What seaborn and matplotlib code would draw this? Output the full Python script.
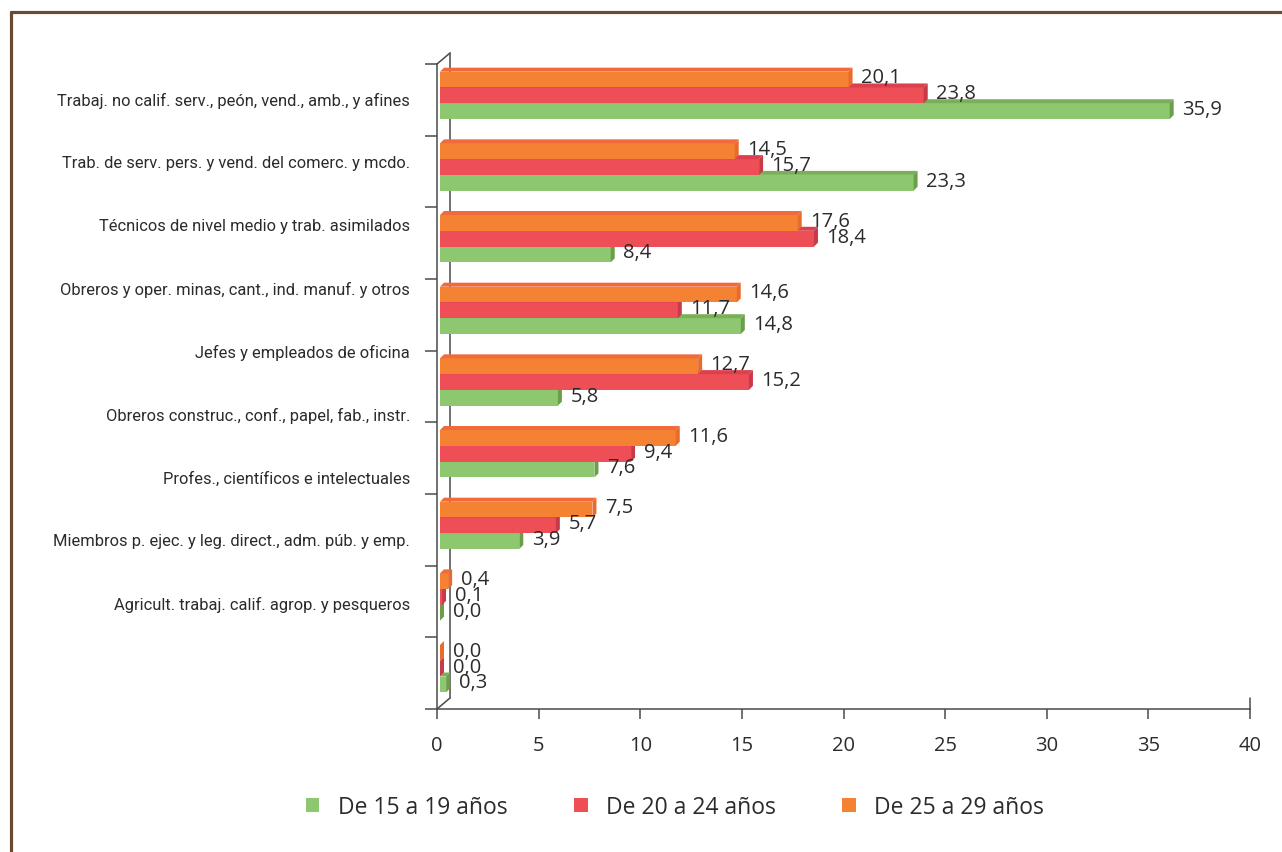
import numpy as np
import pandas as pd
import matplotlib
matplotlib.use("Agg")
import matplotlib.pyplot as plt
import seaborn as sns
from matplotlib.patches import Polygon, Patch
from matplotlib.lines import Line2D
import matplotlib.transforms as mtransforms

# Data
categories = [
    "Trabaj. no calif. serv., peón, vend., amb., y afines",
    "Trab. de serv. pers. y vend. del comerc. y mcdo.",
    "Técnicos de nivel medio y trab. asimilados",
    "Obreros y oper. minas, cant., ind. manuf. y otros",
    "Jefes y empleados de oficina",
    "Obreros construc., conf., papel, fab., instr.",
    "Profes., científicos e intelectuales",
    "Miembros p. ejec. y leg. direct., adm. púb. y emp.",
    "Agricult. trabaj. calif. agrop. y pesqueros",
]
series_names = ["De 15 a 19 años", "De 20 a 24 años", "De 25 a 29 años"]
v15_19 = [35.9, 23.3, 8.4, 14.8, 5.8, 7.6, 3.9, 0.0, 0.3]
v20_24 = [23.8, 15.7, 18.4, 11.7, 15.2, 9.4, 5.7, 0.1, 0.0]
v25_29 = [20.1, 14.5, 17.6, 14.6, 12.7, 11.6, 7.5, 0.4, 0.0]
x_ticks = [0, 5, 10, 15, 20, 25, 30, 35, 40]

# colours: front, top, side
colors = {
    "De 15 a 19 años": ("#8DC870", "#78AF57", "#6A9F48"),
    "De 20 a 24 años": ("#EE4E56", "#DC3F4D", "#C73A47"),
    "De 25 a 29 años": ("#F58233", "#F06A3C", "#E86A2C"),
}

sns.set_theme(style="white")
plt.rcParams['font.family'] = ['Open Sans', 'DejaVu Sans']
TXT = "#2B2B2B"
AX = "#4A4A4A"

df = pd.DataFrame({
    "cat": categories * 3,
    "grupo": [series_names[0]] * 9 + [series_names[1]] * 9 + [series_names[2]] * 9,
    "pct": v15_19 + v20_24 + v25_29,
})

W, H = 1282, 853
fig = plt.figure(figsize=(W / 100, H / 100), dpi=100)
ax = fig.add_axes([437 / W, 1 - 710 / H, (1250 - 437) / W, (710 - 65) / H])

hue_order = series_names[::-1]  # orange drawn at top of each group
sns.barplot(data=df, y="cat", x="pct", hue="grupo", hue_order=hue_order,
            order=categories, orient="h", width=0.66, errorbar=None,
            palette={k: v[0] for k, v in colors.items()}, saturation=1,
            legend=False, ax=ax)

ax.set_xlim(0, 40)
ax.set_ylim(len(categories) - 0.5, -0.5)

# pixel -> data conversion for the fake 3D depth
px_x = 40 / (1250 - 437)
px_y = len(categories) / (710 - 65)
dx, dy = 4 * px_x, 4 * px_y
x_shift, y_shift = 3 * px_x, 4.5 * px_y

zorders = {series_names[0]: 2.0, series_names[1]: 2.5, series_names[2]: 3.0}
vals = {series_names[0]: v15_19, series_names[1]: v20_24, series_names[2]: v25_29}

for name, cont in zip(hue_order, ax.containers):
    front, top, side = colors[name]
    z = zorders[name]
    for bar, v in zip(cont, vals[name]):
        bar.set_x(x_shift)
        bar.set_y(bar.get_y() - y_shift)
        bar.set_zorder(z)
        bar.set_edgecolor("none")
        x0 = bar.get_x()
        x1 = x0 + bar.get_width()
        yt = bar.get_y()
        yb = yt + bar.get_height()
        ax.add_patch(Polygon([(x0, yt), (x1, yt), (x1 + dx, yt - dy), (x0 + dx, yt - dy)],
                             closed=True, facecolor=top, edgecolor="none", zorder=z))
        ax.add_patch(Polygon([(x1, yt), (x1 + dx, yt - dy), (x1 + dx, yb - dy), (x1, yb)],
                             closed=True, facecolor=side, edgecolor="none", zorder=z))
        ax.annotate(f"{v:.1f}".replace(".", ","), xy=(x1, (yt + yb) / 2),
                    xytext=(9, 1.5), textcoords="offset points",
                    ha="left", va="center", fontsize=14.5, color=TXT, zorder=5)

# axes styling
sns.despine(ax=ax, top=True, right=True)
for s in ["left", "bottom"]:
    ax.spines[s].set_color(AX)
    ax.spines[s].set_linewidth(1.1)
ax.set_yticks(np.arange(-0.5, len(categories), 1.0))
ax.set_yticklabels([])
ax.set_xticks(x_ticks)
ax.set_xticklabels([str(t) for t in x_ticks])
ax.tick_params(axis="y", left=True, length=8.6, width=1.1, color=AX)
ax.tick_params(axis="x", bottom=True, length=7, width=1.1, color=AX,
               labelsize=14.5, labelcolor=TXT, pad=12)
ax.set_xlabel("")
ax.set_ylabel("")
ax.grid(False)

# back wall of the 3D frame
ddx, ddy = 13 / (1250 - 437), 11 / (710 - 65)
wall = dict(color=AX, lw=1.1, transform=ax.transAxes, clip_on=False, zorder=1)
ax.add_line(Line2D([0, ddx], [1, 1 + ddy], **wall))
ax.add_line(Line2D([ddx, ddx], [1 + ddy, ddy], **wall))
ax.add_line(Line2D([0, ddx], [0, ddy], **wall))
ax.add_line(Line2D([1, 1], [0, ddy], **wall))

# category labels (spaced as in the original, not aligned to the bands)
label_step = 63 * px_y
trans = mtransforms.blended_transform_factory(ax.transAxes, ax.transData)
for i, name in enumerate(categories):
    ax.text(-27 / (1250 - 437), i * label_step, name, transform=trans,
            ha="right", va="center", fontsize=11.9, color=TXT,
            family=['Roboto', 'DejaVu Sans'])

# legend
handles = [Patch(facecolor=colors[n][0], edgecolor="none", label=n) for n in series_names]
fig.legend(handles=handles, loc="center", bbox_to_anchor=(675 / W, 1 - 808 / H),
           ncol=3, frameon=False, fontsize=16.5, handlelength=0.6, handleheight=0.6,
           handletextpad=0.8, columnspacing=2.9, labelcolor=TXT)

# brown outer frame
frame = dict(color="#6B4A33", lw=2.3, transform=fig.transFigure)
fig.add_artist(Line2D([10.5 / W, 1.0], [1 - 12.5 / H, 1 - 12.5 / H], **frame))
fig.add_artist(Line2D([10.5 / W, 10.5 / W], [1 - 12.5 / H, 0.0], **frame))

fig.savefig("out.png", dpi=100, facecolor="white")
plt.close(fig)
